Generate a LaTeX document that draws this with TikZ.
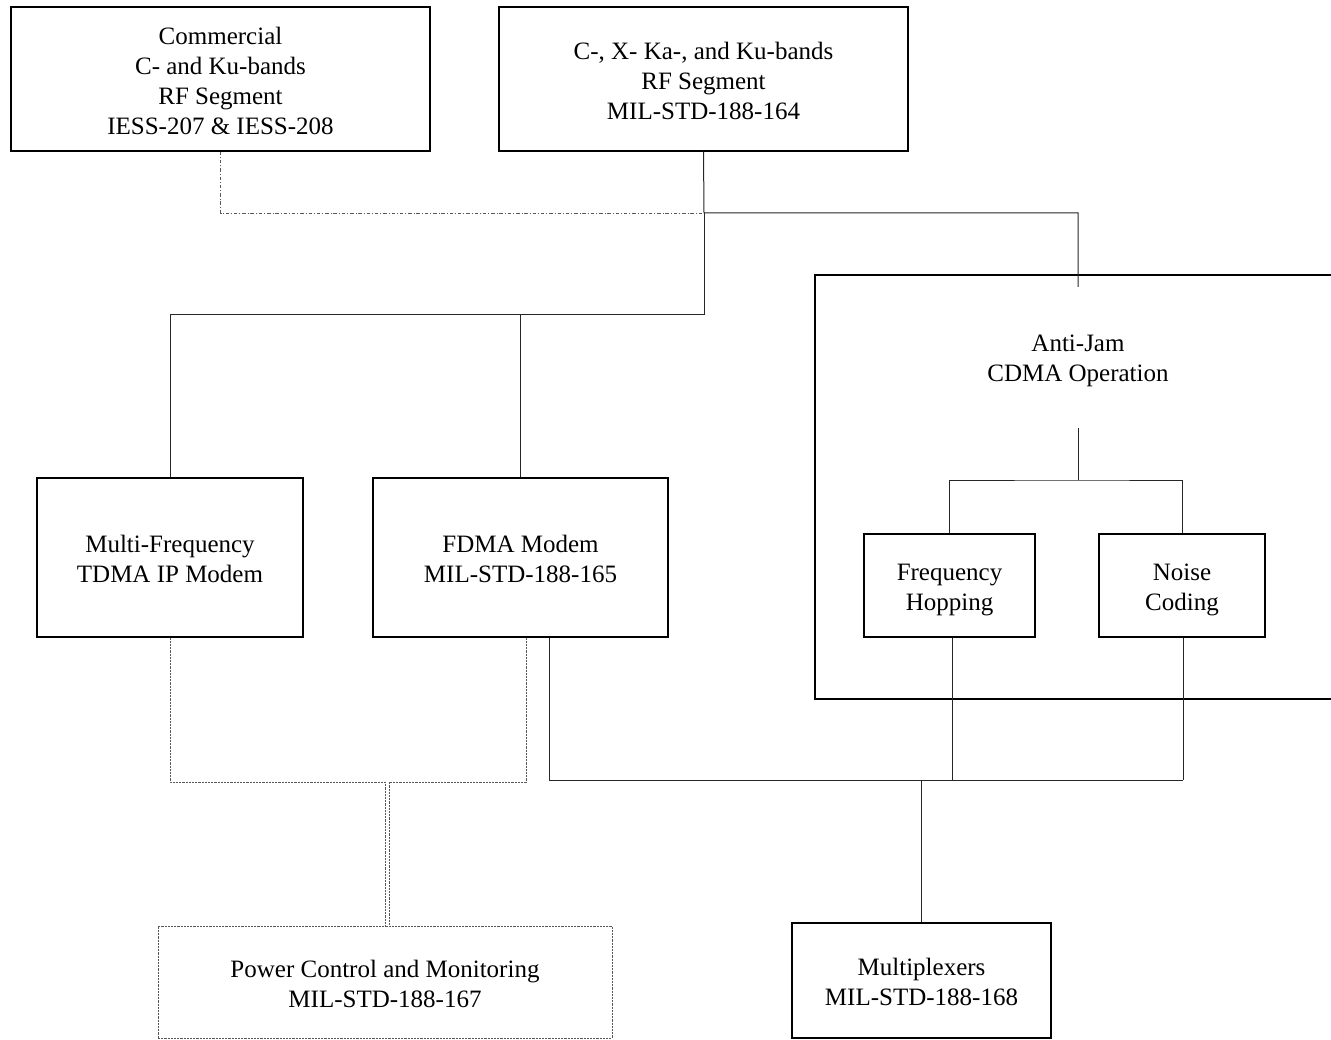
\documentclass[tikz,border=0pt]{standalone}
\usepackage{fontspec}
\setmainfont{Liberation Serif}
\newcommand{\boxtext}[2]{\raisebox{-#1}[\height][\depth]{\begin{tabular}{@{}c@{}}#2\end{tabular}}}
\begin{document}
\begin{tikzpicture}[x=1pt,y=-1pt,
  box/.style={draw=black,line width=1.3pt,align=center,inner sep=0pt,font=\fontsize{25}{30}\selectfont},
  dbox/.style={box,draw=black!65,line width=0.9pt,dash pattern=on 2.2pt off 1pt},
  lbl/.style={align=center,inner sep=0pt,font=\fontsize{25}{30}\selectfont},
  ln/.style={draw=black!85,line width=1pt},
  dsh/.style={draw=black!65,line width=0.9pt,dash pattern=on 2.2pt off 1pt},
  dashdotline/.style={draw=black!65,line width=0.9pt,dash pattern=on 3.5pt off 2pt on 0.8pt off 2pt}]
\useasboundingbox (0,0) rectangle (1331,1040);

% boxes
\node[box,minimum width=419pt,minimum height=144pt] (com) at (220.5,79) {\boxtext{5pt}{Commercial\\C- and Ku-bands\\RF Segment\\IESS-207 \& IESS-208}};
\node[box,minimum width=409pt,minimum height=144pt] (cx) at (703.5,79) {\boxtext{5pt}{C-, X- Ka-, and Ku-bands\\RF Segment\\MIL-STD-188-164}};
\node[box,minimum width=266pt,minimum height=159pt] (mf) at (170,557.5) {\boxtext{4pt}{Multi-Frequency\\TDMA IP Modem}};
\node[box,minimum width=295pt,minimum height=159pt] (fd) at (520.5,557.5) {\boxtext{4pt}{FDMA Modem\\MIL-STD-188-165}};
\node[box,minimum width=171pt,minimum height=103pt] (fh) at (949.5,585.5) {\boxtext{4pt}{Frequency\\Hopping}};
\node[box,minimum width=166pt,minimum height=103pt] (nc) at (1182,585.5) {\boxtext{4pt}{Noise\\Coding}};
\node[dbox,minimum width=454pt,minimum height=112pt] (pw) at (385,982) {\boxtext{4pt}{Power Control and Monitoring\\MIL-STD-188-167}};
\node[box,minimum width=259pt,minimum height=115pt] (mux) at (921.5,980.5) {\boxtext{4pt}{Multiplexers\\MIL-STD-188-168}};

% anti-jam frame (open to the right)
\draw[black,line width=1.3pt] (1332,275) -- (815,275) -- (815,699) -- (1332,699);
\node[lbl] (aj) at (1078,361) {Anti-Jam\\CDMA Operation};

% coordinates
\coordinate (j1) at (704,213);
\coordinate (j2) at (704,315);
\coordinate (ajtop) at (1078,287);
\coordinate (aj1) at (1078,428);
\coordinate (aj2) at (1078,480);
\coordinate (b1) at (952,780);
\coordinate (b2) at (1183,780);
\coordinate (d1) at (385,782);
\coordinate (d2) at (526,782);
\coordinate (d3) at (389,782);

% top connectors
\draw[ln] (cx.south) -- (j1) -| (ajtop);
\draw[ln] (j1) -- (j2);
\draw[ln] (mf.north) |- (j2);
\draw[ln] (fd.north) -- (fd.north |- j2);
\draw[dashdotline] (com.south) |- (j1);

% anti-jam internal
\draw[ln] (aj1) -- (aj2);
\draw[ln] (fh.north) |- (aj2) -| (nc.north);

% bottom solid connectors
\draw[ln] ([xshift=28.5pt]fd.south) |- (b2);
\draw[ln] ([xshift=2.5pt]fh.south) -- (b1);
\draw[ln] ([xshift=1pt]nc.south) -- (b2);
\draw[ln] (mux.north) -- (mux.north |- b1) -- (b1);

% dashed power connectors
\draw[dsh] (mf.south) |- (d1) -- (pw.north);
\draw[dsh] ([xshift=5.5pt]fd.south) -- (d2) -- (d3) -- ([xshift=4pt]pw.north);
\end{tikzpicture}
\end{document}
